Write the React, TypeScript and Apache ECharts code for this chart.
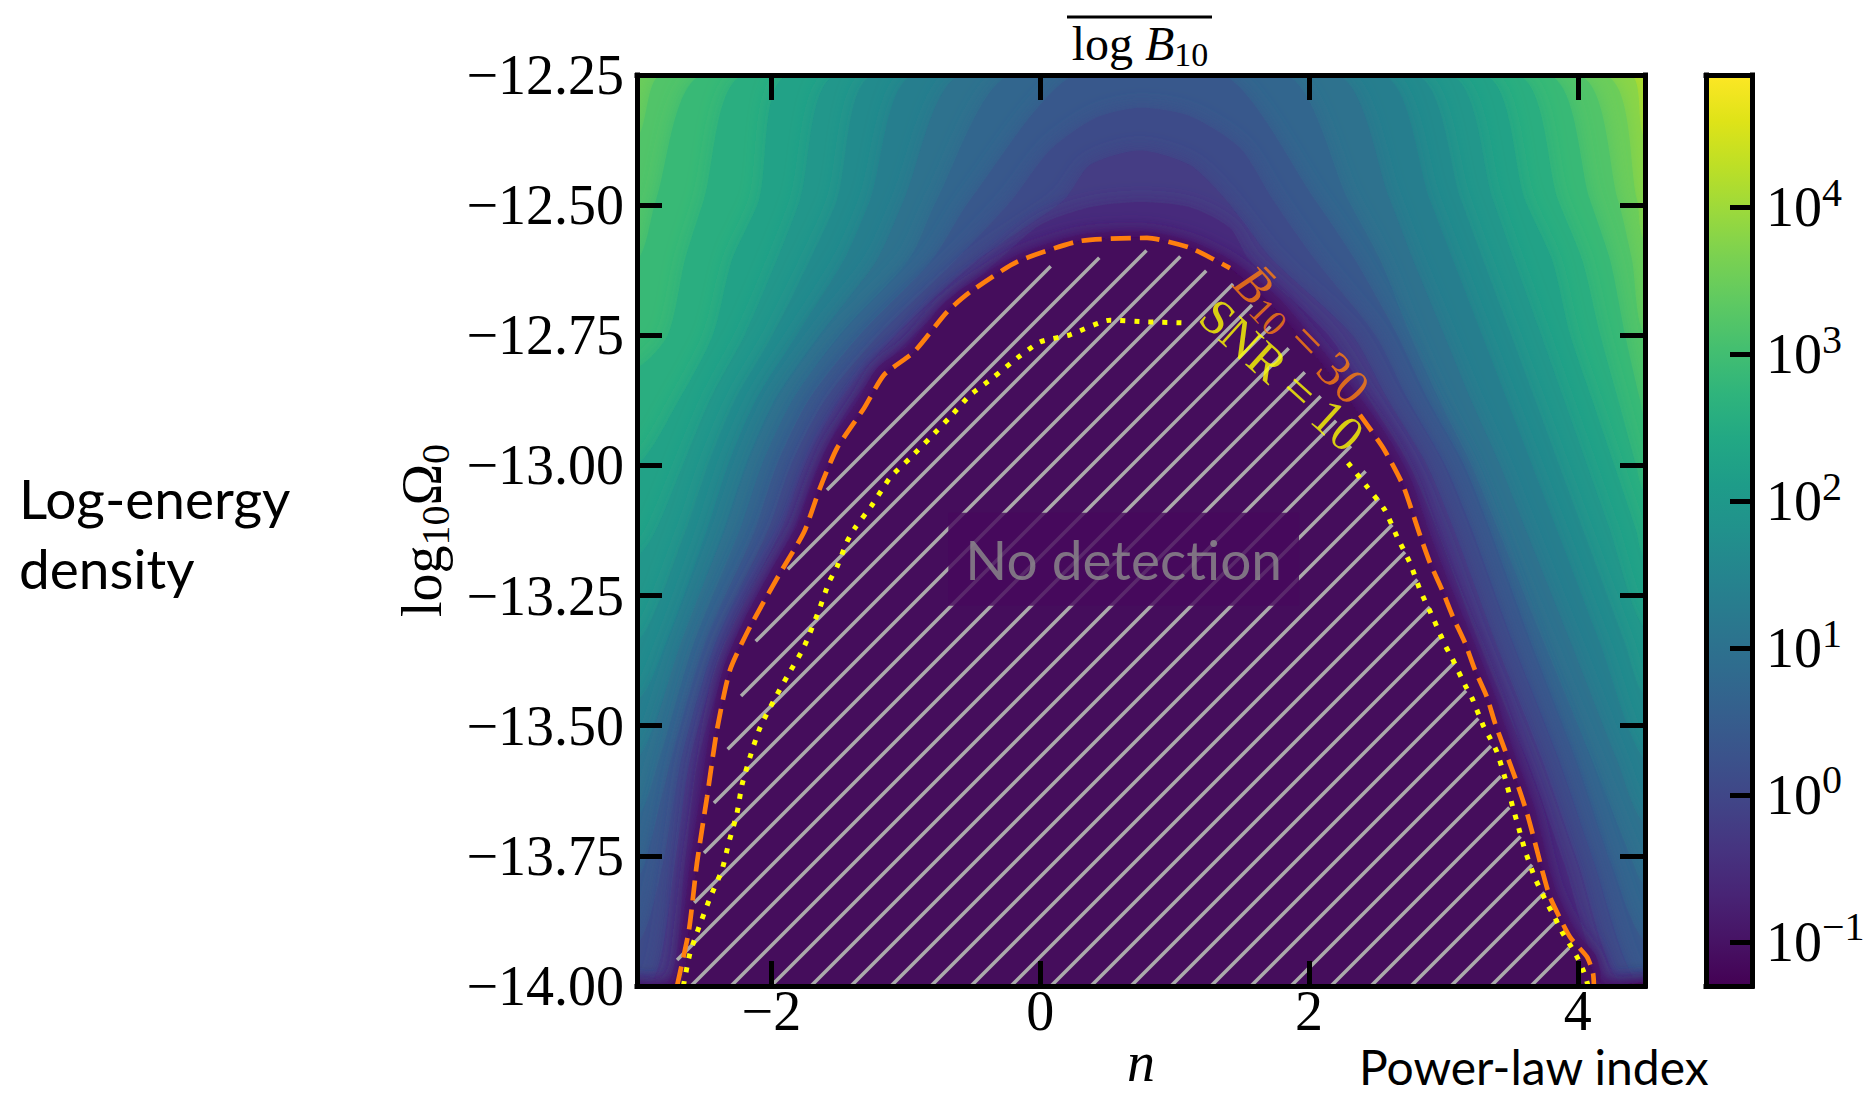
import React, { useEffect, useRef } from "react";
import * as echarts from "echarts";

const SERIF = "'Liberation Serif', 'Times New Roman', Times, serif";
const SANS = "Lato, 'Noto Sans', 'Open Sans', sans-serif";
const ORANGE = "#ff7f0e";
const YELLOW = "#ffff00";
const HATCH = "#ababab";

// ---- axes ----
const xRange = [-3, 4.5];
const xTicks = [-2, 0, 2, 4];
const yRange = [-14, -12.25];
const yStep = 0.25;
const cbRange = [-1.3, 4.9]; // log10 of colour-bar quantity
const cbTicks = [-1, 0, 1, 2, 3, 4];

const viridis = [
  "#440154", "#471365", "#482475", "#463480", "#414487", "#3b528b", "#355f8d",
  "#2f6c8e", "#2a788e", "#25848e", "#21918c", "#1e9c89", "#22a884", "#2fb47c",
  "#44bf70", "#5ec962", "#7ad151", "#9bd93c", "#bddf26", "#dfe318", "#fde725",
];

// ---- filled-contour levels; each path is a list of [n, log10 Omega0] ----
const fullField = [[-3, -12.25], [4.5, -12.25]];
const lvl397 = [[4.381, -12.25], [4.5, -12.37]];
const lvl366 = [[4.187, -12.25], [4.441, -12.49], [4.5, -12.567]];
const lvl335 = [[-3, -12.37], [-2.814, -12.25], [3.994, -12.25], [4.299, -12.49], [4.403, -12.605], [4.5, -12.749]];
const lvl304 = [[-3, -12.605], [-2.859, -12.49], [-2.502, -12.25], [3.771, -12.25], [4.091, -12.49], [4.24, -12.605], [4.352, -12.749], [4.463, -12.874], [4.5, -12.905]];
const lvl273 = [[-3, -12.812], [-2.769, -12.749], [-2.643, -12.605], [-2.502, -12.49], [-2.197, -12.25], [3.54, -12.25], [3.853, -12.49], [4.032, -12.605], [4.166, -12.749], [4.3, -12.874], [4.433, -12.999], [4.5, -13.049]];
const lvl242 = [[-3, -12.999], [-2.687, -12.874], [-2.434, -12.749], [-2.293, -12.605], [-2.092, -12.49], [-1.869, -12.25], [3.295, -12.25], [3.607, -12.49], [3.808, -12.605], [3.942, -12.749], [4.106, -12.874], [4.27, -12.999], [4.433, -13.124], [4.5, -13.178]];
const lvl211 = [[-3, -13.174], [-2.859, -13.124], [-2.658, -12.999], [-2.457, -12.874], [-2.197, -12.749], [-1.959, -12.605], [-1.787, -12.49], [-1.512, -12.25], [3.042, -12.25], [3.369, -12.49], [3.525, -12.605], [3.726, -12.749], [3.897, -12.874], [4.068, -12.999], [4.239, -13.124], [4.5, -13.314]];
const lvl180 = [[-3, -13.341], [-2.635, -13.124], [-2.472, -12.999], [-2.271, -12.874], [-1.989, -12.749], [-1.713, -12.605], [-1.512, -12.49], [-1.237, -12.25], [2.789, -12.25], [3.131, -12.49], [3.295, -12.605], [3.503, -12.749], [3.682, -12.874], [3.86, -12.999], [4.039, -13.124], [4.351, -13.341], [4.5, -13.441]];
const lvl149 = [[-3, -13.453], [-2.784, -13.341], [-2.479, -13.124], [-2.323, -12.999], [-2.115, -12.874], [-1.81, -12.749], [-1.46, -12.605], [-1.266, -12.49], [-0.939, -12.25], [2.543, -12.25], [2.9, -12.49], [3.071, -12.605], [3.287, -12.749], [3.473, -12.874], [3.659, -12.999], [3.845, -13.124], [4.165, -13.341], [4.5, -13.566]];
const lvl118 = [[-3, -13.566], [-2.673, -13.341], [-2.353, -13.124], [-2.189, -12.999], [-1.974, -12.874], [-1.639, -12.749], [-1.215, -12.605], [-1.014, -12.49], [-0.589, -12.25], [2.208, -12.25], [2.603, -12.49], [2.774, -12.605], [3.005, -12.749], [3.205, -12.874], [3.421, -12.999], [3.614, -13.124], [3.949, -13.341], [4.292, -13.566], [4.5, -13.689]];
const lvl087 = [[-3, -13.675], [-2.836, -13.566], [-2.576, -13.341], [-2.234, -13.124], [-2.07, -12.999], [-1.84, -12.874], [-1.49, -12.749], [-0.977, -12.605], [-0.768, -12.49], [-0.225, -12.25], [1.829, -12.25], [2.29, -12.49], [2.528, -12.605], [2.751, -12.749], [2.967, -12.874], [3.205, -12.999], [3.406, -13.124], [3.748, -13.341], [4.106, -13.566], [4.411, -13.764], [4.5, -13.806]];
const lvl056 = [[-3, -13.79], [-2.94, -13.764], [-2.747, -13.566], [-2.494, -13.341], [-2.122, -13.124], [-1.959, -12.999], [-1.721, -12.874], [-1.341, -12.749], [-0.805, -12.605], [-0.522, -12.49], [0.251, -12.25], [1.368, -12.25], [2.045, -12.49], [2.342, -12.605], [2.655, -12.749], [2.885, -12.874], [3.153, -12.999], [3.346, -13.124], [3.652, -13.341], [3.987, -13.566], [4.247, -13.764], [4.5, -13.914]];
const lvl025 = [[-3, -13.921], [-2.807, -13.764], [-2.673, -13.566], [-2.42, -13.341], [-2.025, -13.124], [-1.854, -12.999], [-1.601, -12.874], [-1.199, -12.749], [-0.626, -12.605], [-0.21, -12.49], [0.073, -12.394], [0.408, -12.333], [0.743, -12.313], [1.115, -12.329], [1.487, -12.39], [1.732, -12.49], [2.045, -12.605], [2.491, -12.749], [2.737, -12.874], [3.012, -12.999], [3.213, -13.124], [3.518, -13.341], [3.86, -13.566], [4.121, -13.764], [4.456, -14.0]];
const lvlm006 = [[-2.903, -14.0], [-2.717, -13.764], [-2.606, -13.566], [-2.345, -13.341], [-1.929, -13.124], [-1.751, -12.999], [-1.49, -12.874], [-1.073, -12.749], [-0.463, -12.605], [0.177, -12.49], [0.37, -12.423], [0.743, -12.395], [1.115, -12.423], [1.383, -12.49], [1.732, -12.605], [2.32, -12.749], [2.588, -12.874], [2.878, -12.999], [3.079, -13.124], [3.391, -13.341], [3.734, -13.566], [4.002, -13.764], [4.329, -14.0]];
const lvlm037 = [[-2.784, -14.0], [-2.643, -13.764], [-2.546, -13.566], [-2.278, -13.341], [-1.839, -13.124], [-1.653, -12.999], [-1.385, -12.874], [-0.939, -12.749], [-0.307, -12.605], [-0.001, -12.538], [0.37, -12.504], [0.743, -12.494], [1.115, -12.504], [1.413, -12.544], [1.554, -12.605], [2.142, -12.749], [2.447, -12.874], [2.745, -12.999], [2.953, -13.124], [3.265, -13.341], [3.622, -13.566], [3.897, -13.764], [4.225, -14.0]];
const lvlm068 = [[-2.76, -14], [-2.666, -13.892], [-2.606, -13.764], [-2.531, -13.637], [-2.457, -13.508], [-2.36, -13.393], [-2.21, -13.3], [-1.99, -13.195], [-1.81, -13.115], [-1.69, -13.03], [-1.565, -12.955], [-1.36, -12.876], [-1.21, -12.812], [-0.98, -12.768], [-0.73, -12.692], [-0.55, -12.655], [-0.18, -12.597], [0.296, -12.557], [0.795, -12.551], [1.13, -12.57], [1.44, -12.609], [1.78, -12.68], [2.12, -12.785], [2.44, -12.89], [2.61, -12.955], [2.76, -13.028], [2.89, -13.124], [3.05, -13.23], [3.22, -13.335], [3.38, -13.44], [3.52, -13.547], [3.68, -13.66], [3.79, -13.775], [3.85, -13.825], [4.0, -13.9], [4.13, -13.94], [4.17, -13.975], [4.18, -14]];

// ---- B10 = 30 contour (orange dashed) and SNR = 10 contour (yellow dotted) ----
const b30Left = [[-2.702, -14.0], [-2.613, -13.892], [-2.554, -13.764], [-2.479, -13.637], [-2.405, -13.508], [-2.308, -13.393], [-2.159, -13.31], [-1.936, -13.207], [-1.757, -13.128], [-1.638, -13.043], [-1.512, -12.967], [-1.311, -12.89], [-1.162, -12.826], [-0.939, -12.782], [-0.693, -12.705], [-0.522, -12.667], [-0.173, -12.609], [0.296, -12.569], [0.795, -12.563], [1.115, -12.582], [1.412, -12.621]];
const b30UnderLabel = [[1.75, -12.7], [2.08, -12.8]];
const b30Right = [[2.379, -12.903], [2.551, -12.966], [2.699, -13.038], [2.826, -13.134], [2.9, -13.187], [2.99, -13.239], [3.071, -13.291], [3.161, -13.341], [3.235, -13.393], [3.324, -13.445], [3.384, -13.495], [3.458, -13.547], [3.548, -13.61], [3.622, -13.668], [3.696, -13.739], [3.734, -13.777], [3.793, -13.829], [3.942, -13.906], [4.068, -13.944], [4.113, -13.975], [4.12, -14.0]];
const snrLeft = [[-2.655, -14.0], [-2.606, -13.937], [-2.539, -13.887], [-2.457, -13.831], [-2.368, -13.777], [-2.315, -13.723], [-2.256, -13.668], [-2.219, -13.614], [-2.159, -13.56], [-2.085, -13.504], [-1.981, -13.451], [-1.884, -13.406], [-1.76, -13.35], [-1.646, -13.278], [-1.571, -13.224], [-1.512, -13.195], [-1.438, -13.147], [-1.378, -13.12], [-1.251, -13.076], [-1.118, -13.024], [-0.969, -12.986], [-0.82, -12.947], [-0.671, -12.907], [-0.522, -12.865], [-0.344, -12.83], [-0.173, -12.794], [-0.002, -12.763], [0.222, -12.749], [0.519, -12.721], [0.772, -12.724], [1.063, -12.726]];
const snrRight = [[2.29, -12.995], [2.432, -13.041], [2.565, -13.086], [2.655, -13.137], [2.751, -13.187], [2.826, -13.239], [2.923, -13.293], [3.012, -13.345], [3.064, -13.37], [3.161, -13.422], [3.213, -13.447], [3.295, -13.499], [3.347, -13.524], [3.399, -13.551], [3.458, -13.6], [3.518, -13.658], [3.548, -13.685], [3.607, -13.739], [3.682, -13.793], [3.771, -13.841], [3.83, -13.869], [3.882, -13.896], [3.942, -13.921], [3.994, -13.944], [4.039, -13.969], [4.068, -13.992], [4.075, -14.0]];

// ---- hatched "no detection" region boundary ----
const hatchEdge = [[-2.74, -14.0], [-2.702, -13.95], [-2.568, -13.835], [-2.501, -13.744], [-2.427, -13.648], [-2.33, -13.55], [-2.234, -13.451], [-2.129, -13.345], [-1.906, -13.214], [-1.586, -13.047], [-1.266, -12.913], [-0.894, -12.797], [-0.448, -12.682], [0.147, -12.609], [0.475, -12.6], [0.817, -12.586], [1.063, -12.6], [1.249, -12.628], [1.449, -12.653], [1.859, -12.778], [2.156, -12.894], [2.417, -13.009], [2.64, -13.124], [2.826, -13.23], [3.012, -13.335], [3.198, -13.451], [3.384, -13.556], [3.496, -13.662], [3.644, -13.758], [3.83, -13.864], [3.957, -13.902], [3.868, -14.0]];

// ---- annotations (data positions) ----
const labelB30 = [1.948, -12.749];
const labelSNR = [1.799, -12.826];
const noDetectionAt = [0.621, -13.18];

// band drawing order (outermost first) and the log10 value used to colour each band
const bandPaths = [fullField, lvl397, lvl366, lvl335, lvl304, lvl273, lvl242, lvl211, lvl180, lvl149, lvl118, lvl087, lvl056, lvl025, lvlm006, lvlm037, lvlm068, [...b30Left, ...b30UnderLabel, ...b30Right]];
const bandFill = [4.2, 3.815, 3.505, 3.195, 2.885, 2.575, 2.265, 1.955, 1.645, 1.335, 1.025, 0.715, 0.405, 0.095, -0.215, -0.525, -0.835, -1.15];

const minus = (v: number, digits?: number) => {
  const s = digits === undefined ? String(Math.abs(v)) : Math.abs(v).toFixed(digits);
  return (v < 0 ? "\u2212" : "") + s;
};

export default function App() {
  const ref = useRef<HTMLDivElement>(null);

  useEffect(() => {
    if (!ref.current) return;
    const chart = echarts.init(ref.current, null, { renderer: "svg" });

    const axisLine = { show: true, onZero: false, lineStyle: { color: "#000", width: 5, cap: "square" } };
    const tickStyle = { color: "#000", width: 5 };
    const serifLabel = { fontFamily: SERIF, fontSize: 56, color: "#000" };

    const option: any = {
      animation: false,
      backgroundColor: "#fff",
      grid: [
        { left: 637, top: 75, width: 1008, height: 911, containLabel: false, outerBoundsMode: "none" },
        { left: 1706, top: 75, width: 46, height: 911, containLabel: false, outerBoundsMode: "none" },
      ],
      visualMap: [
        {
          type: "continuous",
          show: false,
          seriesIndex: 0,
          dimension: 1,
          min: cbRange[0],
          max: cbRange[1],
          inRange: { color: viridis },
        },
      ],
      xAxis: [
        {
          gridIndex: 0, type: "value", min: xRange[0], max: xRange[1], position: "bottom", z: 10,
          axisLine,
          axisTick: { show: true, inside: true, length: 25, lineStyle: tickStyle, customValues: xTicks },
          axisLabel: { ...serifLabel, margin: -3, customValues: xTicks, formatter: (v: number) => minus(v) },
          splitLine: { show: false },
          name: "n", nameLocation: "middle", nameGap: 56, nameMoveOverlap: false,
          nameTextStyle: { fontFamily: SERIF, fontStyle: "italic", fontSize: 56, lineHeight: 40, color: "#000" },
        },
        {
          gridIndex: 0, type: "value", min: xRange[0], max: xRange[1], position: "top", z: 10,
          axisLine,
          axisTick: { show: true, inside: true, length: 25, lineStyle: tickStyle, customValues: xTicks },
          axisLabel: { show: false },
          splitLine: { show: false },
        },
        {
          gridIndex: 1, type: "value", min: 0, max: 1, position: "bottom", z: 10,
          axisLine, axisTick: { show: false }, axisLabel: { show: false }, splitLine: { show: false },
        },
        {
          gridIndex: 1, type: "value", min: 0, max: 1, position: "top", z: 10,
          axisLine, axisTick: { show: false }, axisLabel: { show: false }, splitLine: { show: false },
        },
      ],
      yAxis: [
        {
          gridIndex: 0, type: "value", min: yRange[0], max: yRange[1], interval: yStep, position: "left", z: 10,
          axisLine,
          axisTick: { show: true, inside: true, length: 25, lineStyle: tickStyle },
          axisLabel: { ...serifLabel, margin: 13, formatter: (v: number) => minus(v, 2) },
          splitLine: { show: false },
          name: "{m|log}{s|10}{m|\u03A9}{s|0}",
          nameLocation: "middle", nameRotate: 90, nameGap: 182,
          nameTextStyle: {
            rich: {
              m: { fontFamily: SERIF, fontSize: 56, color: "#000" },
              s: { fontFamily: SERIF, fontSize: 40, color: "#000", padding: [26, 0, 0, 0] },
            },
          },
        },
        {
          gridIndex: 0, type: "value", min: yRange[0], max: yRange[1], interval: yStep, position: "right", z: 10,
          axisLine,
          axisTick: { show: true, inside: true, length: 25, lineStyle: tickStyle },
          axisLabel: { show: false }, splitLine: { show: false },
        },
        {
          gridIndex: 1, type: "value", min: cbRange[0], max: cbRange[1], position: "left", z: 10,
          axisLine, axisTick: { show: false }, axisLabel: { show: false }, splitLine: { show: false },
        },
        {
          gridIndex: 1, type: "value", min: cbRange[0], max: cbRange[1], position: "right", z: 10,
          axisLine,
          axisTick: { show: true, inside: true, length: 22, lineStyle: tickStyle, customValues: cbTicks },
          axisLabel: {
            margin: 14,
            customValues: cbTicks,
            formatter: (v: number) => `{m|10}{p|${minus(v)}}`,
            rich: {
              m: { fontFamily: SERIF, fontSize: 56, color: "#000" },
              p: { fontFamily: SERIF, fontSize: 40, color: "#000", padding: [0, 0, 30, 0] },
            },
          },
          splitLine: { show: false },
        },
      ],
      series: [
        {
          type: "custom",
          name: "field",
          xAxisIndex: 0, yAxisIndex: 0, z: 1, clip: true,
          data: bandFill.map((v, i) => [i, v]),
          renderItem: (params: any, api: any) => {
            const i = api.value(0);
            const path = bandPaths[i];
            const first = path[0];
            const last = path[path.length - 1];
            const ring = [
              [xRange[0] - 0.4, first[1]],
              ...path,
              [xRange[1] + 0.4, last[1]],
              [xRange[1] + 0.4, yRange[0] - 0.3],
              [xRange[0] - 0.4, yRange[0] - 0.3],
            ];
            const color = api.visual("color");
            return {
              type: "polygon",
              z2: i,
              shape: { points: ring.map((p) => api.coord(p)), smooth: 0.25 },
              style: { fill: color, shadowBlur: i > 0 ? 18 : 0, shadowColor: color },
            };
          },
        },
        {
          type: "custom",
          name: "hatch",
          xAxisIndex: 0, yAxisIndex: 0, z: 2, clip: true,
          data: [[0, -13]],
          renderItem: (params: any, api: any) => {
            const pts = hatchEdge.map((p) => api.coord(p));
            const step = 40;
            const phase = 1317;
            let lo = Infinity;
            let hi = -Infinity;
            pts.forEach((p: number[]) => {
              lo = Math.min(lo, p[0] + p[1]);
              hi = Math.max(hi, p[0] + p[1]);
            });
            const children: any[] = [];
            for (let c = phase + Math.ceil((lo - phase) / step) * step; c <= hi; c += step) {
              const xs: number[] = [];
              for (let k = 0; k < pts.length; k++) {
                const a = pts[k];
                const b = pts[(k + 1) % pts.length];
                const sa = a[0] + a[1] - c;
                const sb = b[0] + b[1] - c;
                if ((sa <= 0 && sb > 0) || (sb <= 0 && sa > 0)) {
                  const t = sa / (sa - sb);
                  xs.push(a[0] + t * (b[0] - a[0]));
                }
              }
              xs.sort((p, q) => p - q);
              for (let k = 0; k + 1 < xs.length; k += 2) {
                children.push({
                  type: "line",
                  shape: { x1: xs[k], y1: c - xs[k], x2: xs[k + 1], y2: c - xs[k + 1] },
                  style: { stroke: HATCH, lineWidth: 3.5 },
                });
              }
            }
            return { type: "group", children };
          },
        },
        {
          type: "scatter",
          name: "No detection",
          xAxisIndex: 0, yAxisIndex: 0, z: 3,
          symbolSize: 1,
          itemStyle: { color: "rgba(0,0,0,0)" },
          data: [noDetectionAt],
          label: {
            show: true,
            position: "inside",
            formatter: "No detection",
            fontFamily: SANS,
            fontSize: 55,
            color: "#8d8d8d",
            backgroundColor: "#46095c",
            padding: [19, 17, 19, 17],
          },
        },
        ...[b30Left, b30Right].map((d) => ({
          type: "line",
          name: "B10 = 30",
          xAxisIndex: 0, yAxisIndex: 0, z: 4,
          data: d,
          showSymbol: false,
          smooth: 0.2,
          lineStyle: { color: ORANGE, width: 4.7, type: [20, 9], cap: "butt" },
        })),
        ...[snrLeft, snrRight].map((d) => ({
          type: "line",
          name: "SNR = 10",
          xAxisIndex: 0, yAxisIndex: 0, z: 4,
          data: d,
          showSymbol: false,
          smooth: 0.2,
          lineStyle: { color: YELLOW, width: 5, type: [5, 9], cap: "butt" },
        })),
        {
          type: "scatter",
          name: "B10 label",
          xAxisIndex: 0, yAxisIndex: 0, z: 5,
          symbolSize: 1,
          itemStyle: { color: "rgba(0,0,0,0)" },
          data: [labelB30],
          label: {
            show: true,
            position: "inside",
            rotate: -46,
            formatter: "{i|B\u0304}{s|10}{m| = 30}",
            rich: {
              i: { fontFamily: SERIF, fontStyle: "italic", fontSize: 50, color: ORANGE },
              s: { fontFamily: SERIF, fontSize: 36, color: ORANGE, padding: [24, 0, 0, 0] },
              m: { fontFamily: SERIF, fontSize: 50, color: ORANGE },
            },
          },
        },
        {
          type: "scatter",
          name: "SNR label",
          xAxisIndex: 0, yAxisIndex: 0, z: 5,
          symbolSize: 1,
          itemStyle: { color: "rgba(0,0,0,0)" },
          data: [labelSNR],
          label: {
            show: true,
            position: "inside",
            rotate: -42,
            formatter: "SNR = 10",
            fontFamily: SERIF,
            fontSize: 50,
            color: YELLOW,
          },
        },
        {
          type: "custom",
          name: "colorbar",
          xAxisIndex: 2, yAxisIndex: 2, z: 1,
          data: [[0.5, 0]],
          renderItem: (params: any, api: any) => {
            const p0 = api.coord([0, cbRange[1]]);
            const p1 = api.coord([1, cbRange[0]]);
            return {
              type: "rect",
              shape: { x: p0[0], y: p0[1], width: p1[0] - p0[0], height: p1[1] - p0[1] },
              style: {
                fill: new echarts.graphic.LinearGradient(
                  0, 1, 0, 0,
                  viridis.map((c, i) => ({ offset: i / (viridis.length - 1), color: c }))
                ),
              },
            };
          },
        },
      ],
      graphic: [
        {
          type: "text",
          x: 1140,
          y: 43,
          style: {
            text: "{m|log }{i|B}{s|10}",
            align: "center",
            verticalAlign: "middle",
            rich: {
              m: { fontFamily: SERIF, fontSize: 48, fill: "#000" },
              i: { fontFamily: SERIF, fontStyle: "italic", fontSize: 48, fill: "#000" },
              s: { fontFamily: SERIF, fontSize: 34, fill: "#000", padding: [22, 0, 0, 0] },
            },
          },
        },
        {
          type: "line",
          shape: { x1: 1067, y1: 17, x2: 1212, y2: 17 },
          style: { stroke: "#000", lineWidth: 3 },
        },
        {
          type: "text",
          x: 19,
          y: 463,
          style: {
            text: "Log-energy\ndensity",
            fontFamily: SANS,
            fontSize: 55,
            lineHeight: 70,
            fill: "#000",
            align: "left",
            verticalAlign: "top",
          },
        },
        {
          type: "text",
          x: 1359,
          y: 1066,
          style: {
            text: "Power-law index",
            fontFamily: SANS,
            fontSize: 48,
            lineHeight: 48,
            fill: "#000",
            align: "left",
            verticalAlign: "middle",
          },
        },
      ],
    };

    chart.setOption(option);
    return () => chart.dispose();
  }, []);

  return (
    <div
      ref={ref}
      style={{ position: "fixed", left: 0, top: 0, width: 1867, height: 1094, background: "#fff" }}
    />
  );
}
